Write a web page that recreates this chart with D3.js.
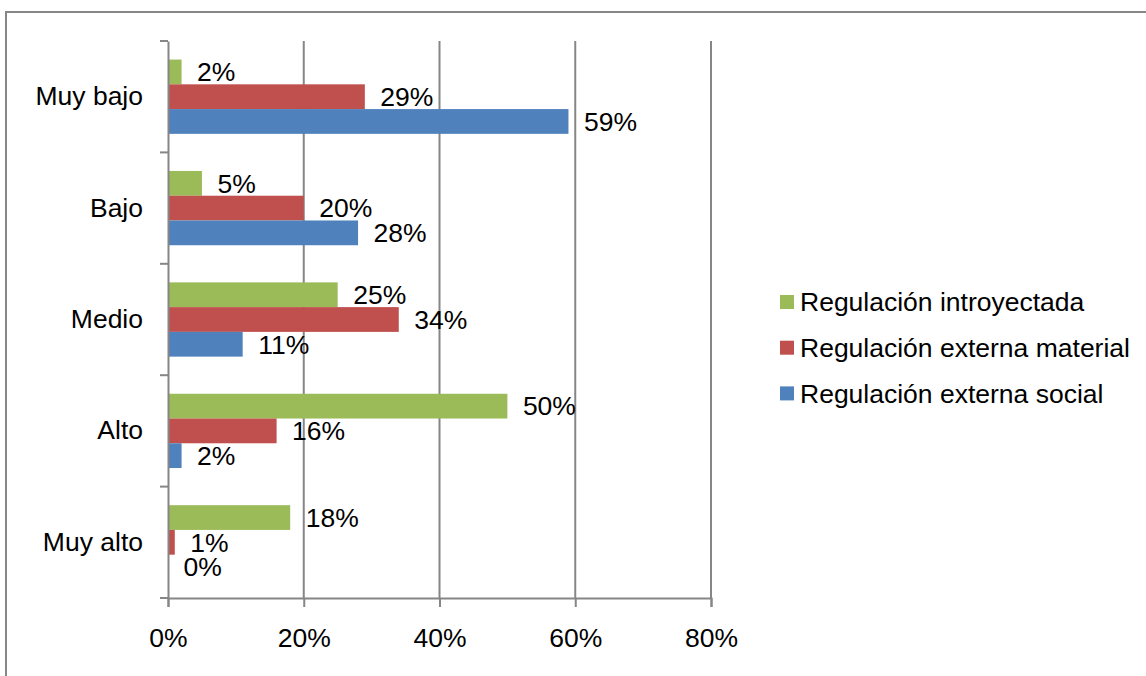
<!DOCTYPE html>
<html>
<head>
<meta charset="utf-8">
<script src="https://cdn.jsdelivr.net/npm/d3@7"></script>
<style>
  html, body { margin: 0; padding: 0; background: #fff; }
  svg { display: block; font-family: "Liberation Sans", Arial, sans-serif; }
</style>
</head>
<body>
<svg id="chart" width="1146" height="676"></svg>
<script>
// Levels of regulation (top to bottom)
const categories = ["Muy bajo", "Bajo", "Medio", "Alto", "Muy alto"];
// Series names, in legend order
const seriesNames = ["Regulación introyectada", "Regulación externa material", "Regulación externa social"];
const seriesColors = ["#9BBB59", "#C0504D", "#4F81BD"];
// Percentages per category for each series
const introyectada = [2, 5, 25, 50, 18];
const externaMaterial = [29, 20, 34, 16, 1];
const externaSocial = [59, 28, 11, 2, 0];
const xTicks = [0, 20, 40, 60, 80];

const seriesValues = [introyectada, externaMaterial, externaSocial];

const svg = d3.select("#chart");
const W = 1146, H = 676;
const fontSize = 26.5;
const fontFamily = "Liberation Sans, Arial, sans-serif";

// outer frame
svg.append("rect")
  .attr("x", 6).attr("y", 12)
  .attr("width", W + 10).attr("height", H + 10)
  .attr("fill", "none").attr("stroke", "#868686").attr("stroke-width", 2);

const plot = { left: 168, right: 711, top: 41, bottom: 598 };

const x = d3.scaleLinear().domain([0, 80]).range([plot.left, plot.right]);
const y = d3.scaleBand().domain(categories).range([plot.top, plot.bottom]).padding(0);
const band = y.bandwidth();
const barH = band / 4.5; // 150% gap width
const inner = d3.scaleBand().domain(d3.range(3))
  .range([0.75 * barH, 3.75 * barH]).padding(0);

const gray = "#868686";

// vertical gridlines
svg.append("g").selectAll("line")
  .data(xTicks.slice(1))
  .join("line")
  .attr("x1", d => x(d)).attr("x2", d => x(d))
  .attr("y1", plot.top).attr("y2", plot.bottom)
  .attr("stroke", gray).attr("stroke-width", 2);

// bars with value labels
const groups = svg.append("g").selectAll("g")
  .data(categories)
  .join("g")
  .attr("transform", d => `translate(0,${y(d)})`);

groups.each(function(cat, ci) {
  const g = d3.select(this);
  seriesValues.forEach((vals, si) => {
    const v = vals[ci];
    g.append("rect")
      .attr("x", x(0))
      .attr("y", inner(si))
      .attr("width", x(v) - x(0))
      .attr("height", inner.bandwidth())
      .attr("fill", seriesColors[si]);
    g.append("text")
      .attr("x", x(v) + 15.5)
      .attr("y", inner(si) + inner.bandwidth() / 2)
      .attr("dy", "0.35em")
      .attr("font-size", fontSize)
      .attr("fill", "#000")
      .text(v + "%");
  });
});

// x axis
const xAxis = d3.axisBottom(x)
  .tickValues(xTicks)
  .tickSize(9)
  .tickPadding(21)
  .tickFormat(d => d + "%");
const gx = svg.append("g")
  .attr("transform", `translate(0,${plot.bottom})`)
  .call(xAxis);
gx.select(".domain").attr("stroke", gray).attr("stroke-width", 2);
gx.selectAll(".tick line").attr("stroke", gray).attr("stroke-width", 2);
gx.selectAll(".tick text").attr("font-size", fontSize).attr("fill", "#000")
  .attr("font-family", fontFamily);

// y axis with ticks at category boundaries
const yAxis = d3.axisLeft(y).tickSize(0).tickPadding(25);
const gy = svg.append("g")
  .attr("transform", `translate(${plot.left},0)`)
  .call(yAxis);
gy.select(".domain").attr("stroke", gray).attr("stroke-width", 2);
gy.selectAll(".tick text").attr("font-size", fontSize).attr("fill", "#000")
  .attr("font-family", fontFamily);
const boundaries = categories.map(c => y(c)).concat([plot.bottom]);
gy.selectAll(".bound")
  .data(boundaries)
  .join("line")
  .attr("class", "bound")
  .attr("x1", -8).attr("x2", 0)
  .attr("y1", d => d).attr("y2", d => d)
  .attr("stroke", gray).attr("stroke-width", 2);

// legend
const legend = svg.append("g").attr("transform", "translate(780,295)");
const rows = legend.selectAll("g")
  .data(seriesNames)
  .join("g")
  .attr("transform", (d, i) => `translate(0,${i * 45.7})`);
rows.append("rect")
  .attr("width", 14).attr("height", 14)
  .attr("fill", (d, i) => seriesColors[i]);
rows.append("text")
  .attr("x", 20).attr("y", 7).attr("dy", "0.35em")
  .attr("font-size", fontSize).attr("fill", "#000")
  .text(d => d);
</script>
</body>
</html>
